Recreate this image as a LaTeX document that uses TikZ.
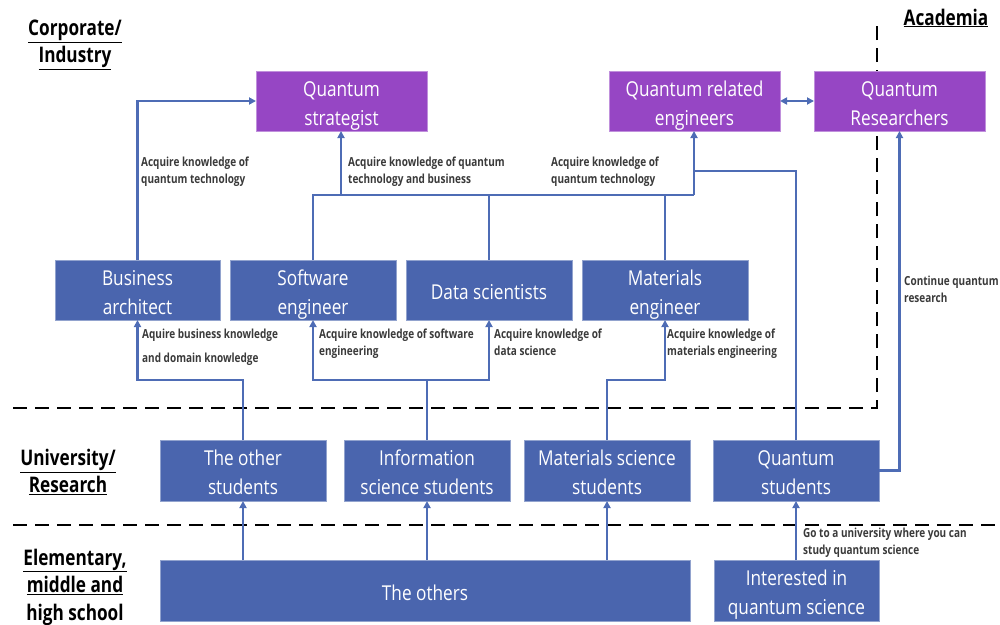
\documentclass[tikz,border=0pt]{standalone}
\usepackage{fontspec}
\setmainfont[FakeStretch=0.84]{Open Sans}
\newfontfamily\labfont[FakeStretch=0.8]{Open Sans}
\usetikzlibrary{arrows.meta}
\definecolor{qpurple}{HTML}{9646C4}
\definecolor{qblue}{HTML}{4A65AE}
\definecolor{qline}{HTML}{4E6CB5}
\definecolor{labgray}{HTML}{3A3A3A}
\newcommand\tu{\rule{0pt}{24pt}}
\newcommand\td{\rule[-4.5pt]{0pt}{4.5pt}}
\tikzset{
  boxbase/.style={line width=0.8pt, text=white, align=center,
    inner sep=0pt, outer sep=0pt, minimum width=166pt, minimum height=60pt,
    font=\fontsize{20.5}{29}\selectfont},
  pbox/.style={boxbase, fill=qpurple, draw=qpurple!60!white, minimum width=171pt},
  bbox/.style={boxbase, fill=qblue, draw=qblue!60!white},
  conn/.style={draw=qline, line width=2.5pt},
  arr/.style={conn, -{Triangle[length=7pt,width=7pt]}},
  lab/.style={text=labgray, align=left, anchor=north west, inner sep=0pt,
    font=\labfont\bfseries\fontsize{12.5}{16.5}\selectfont},
  head/.style={align=center, inner sep=0pt, font=\labfont\bfseries\fontsize{21.5}{27.5}\selectfont},
  divider/.style={draw=black, line width=2pt, dash pattern=on 14pt off 8pt}
}
\begin{document}
\begin{tikzpicture}[x=1pt, y=-1pt]
\useasboundingbox (0,0) rectangle (1000,624);
\clip (0,0) rectangle (1000,624);

% dividers
\draw[divider] (13,408) -- (877,408) -- (877,25);
\draw[divider] (13,525) -- (1000,525);

% headings
\node[head] (hcorp) at (75,45) {\underline{Corporate/}\\\underline{Industry}};
\node[head, anchor=base] (hacad) at (946,25) {\underline{Academia}};
\node[head] (huni) at (68,472) {\underline{University/}\\\underline{Research}};
\node[head] (helem) at (75,588) {\underline{Elementary,}\\\underline{middle and}\\\underline{high school}};

% top row
\node[pbox] (strat) at (341.5,101) {\tu Quantum\\strategist\td};
\node[pbox] (qre) at (694.5,101) {\tu Quantum related\\engineers\td};
\node[pbox] (qres) at (899.5,101) {\tu Quantum\\Researchers\td};

% middle row
\node[bbox, minimum width=165pt] (ba) at (137.5,290) {\tu Business\\architect\td};
\node[bbox] (se) at (313,290) {\tu Software\\engineer\td};
\node[bbox] (ds) at (489,290) {\tu Data scientists\td};
\node[bbox] (me) at (665,290) {\tu Materials\\engineer\td};

% university row
\node[bbox, minimum height=61pt] (os) at (243,470.5) {\tu The other\\students\td};
\node[bbox, minimum height=61pt] (iss) at (427,470.5) {\tu Information\\science students\td};
\node[bbox, minimum height=61pt] (mss) at (607,470.5) {\tu Materials science\\students\td};
\node[bbox, minimum height=61pt] (qs) at (796,470.5) {\tu Quantum\\students\td};

% school row
\node[bbox, minimum width=530pt, minimum height=61pt] (others) at (425,590.5) {\tu The others\td};
\node[bbox, minimum width=165pt, minimum height=61pt] (iqs) at (796.5,590.5) {\tu Interested in\\quantum science\td};

% coordinates
\coordinate (j1) at (341,195);
\coordinate (j2) at (694,195);
\coordinate (j3) at (694,171);

% top connectors
\draw[arr] (ba.north) |- (strat.west);
\draw[conn] (se.north) |- (j2);
\draw[conn] (ds.north) -- (ds.north |- j1);
\draw[conn] (me.north) -- (me.north |- j1);
\draw[arr] (j1) -- (strat.south -| j1);
\draw[arr] (j2) -- (qre.south -| j2);
\draw[conn] (qs.north) |- (j3);
\draw[arr] (qs.east) -| (qres.south);
\draw[conn, {Triangle[length=7pt,width=7pt]}-{Triangle[length=7pt,width=7pt]}] (qre.east) -- (qres.west);

% middle connectors
\coordinate (k1) at (243,380);
\coordinate (k2) at (427,380);
\coordinate (k3) at (607,380);
\draw[arr] (os.north) -- (k1) -| (ba.south);
\draw[arr] (iss.north) -- (k2) -| (se.south);
\draw[arr] (k2) -| (ds.south);
\draw[arr] (mss.north) -- (k3) -| (me.south);

% bottom connectors
\draw[arr] (others.north -| os.north) -- (os.south);
\draw[arr] (others.north -| iss.north) -- (iss.south);
\draw[arr] (others.north -| mss.north) -- (mss.south);
\draw[arr] (iqs.north -| qs.south) -- (qs.south);

% labels
\node[lab] (l1) at (141,157) {Acquire knowledge of\\quantum technology};
\node[lab] (l2) at (348,157) {Acquire knowledge of quantum\\technology and business};
\node[lab] (l3) at (551,157) {Acquire knowledge of\\quantum technology};
\node[lab] (l4) at (904,276) {Continue quantum\\research};
\node[lab, font=\labfont\bfseries\fontsize{12.5}{24}\selectfont] (l5) at (142,329) {Aquire business knowledge\\and domain knowledge};
\node[lab] (l6) at (319,329) {Acquire knowledge of software\\engineering};
\node[lab] (l7) at (494,329) {Acquire knowledge of\\data science};
\node[lab] (l8) at (667,329) {Acquire knowledge of\\materials engineering};
\node[lab] (l9) at (803,528) {Go to a university where you can\\study quantum science};
\end{tikzpicture}
\end{document}
